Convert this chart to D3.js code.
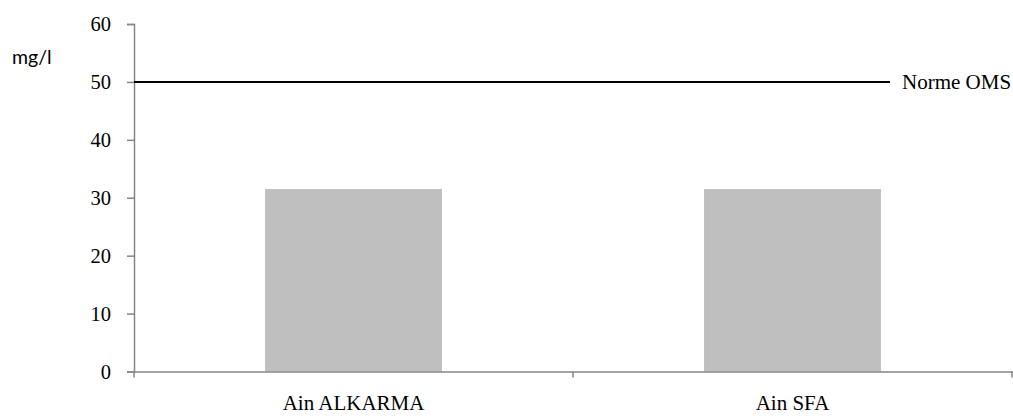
<!DOCTYPE html>
<html><head><meta charset="utf-8">
<script src="https://cdn.jsdelivr.net/npm/d3@7"></script>
<style>
html,body{margin:0;padding:0;background:#fff;}
svg{display:block;}
</style></head>
<body>
<svg id="chart" width="1013" height="416"></svg>
<script>
const categories = ["Ain ALKARMA", "Ain SFA"];
const values = [31.5, 31.5];
const normeValue = 50;
const normeLabel = "Norme OMS";
const yTicks = [0, 10, 20, 30, 40, 50, 60];
const yUnit = "mg/l";

const svg = d3.select("#chart");
const mLeft = 134, mRight = 1012, mTop = 24, mBottom = 371.5;
const serif = "'Liberation Serif','Times New Roman',serif";

const y = d3.scaleLinear().domain([0, 60]).range([mBottom, mTop]);
const x = d3.scaleBand().domain(categories).range([mLeft, mRight]).padding(0);
const barRatio = 0.403;

// bars
svg.append("g").selectAll("rect").data(values).join("rect")
  .attr("x", (d, i) => x(categories[i]) + x.bandwidth() * (1 - barRatio) / 2)
  .attr("width", x.bandwidth() * barRatio)
  .attr("y", d => y(d))
  .attr("height", d => y(0) - y(d))
  .attr("fill", "#bfbfbf");

// y axis
const yAxis = svg.append("g").attr("transform", `translate(${mLeft},0)`)
  .call(d3.axisLeft(y).tickValues(yTicks).tickSize(7).tickPadding(16).tickFormat(d3.format("d")));
yAxis.select(".domain").attr("stroke", "#868686").attr("stroke-width", 1.5);
yAxis.selectAll(".tick line").attr("stroke", "#868686").attr("stroke-width", 1.5);
yAxis.selectAll(".tick text").attr("fill", "#000").style("font-family", serif).style("font-size", "20.5px");

// x axis
const xAxis = svg.append("g").attr("transform", `translate(0,${mBottom})`)
  .call(d3.axisBottom(x).tickSize(0).tickPadding(24).tickSizeOuter(0));
xAxis.select(".domain").attr("stroke", "#868686").attr("stroke-width", 1.5);
xAxis.selectAll(".tick text").attr("fill", "#000").style("font-family", serif).style("font-size", "21px");
// category separator ticks
const seps = categories.map(c => x(c)).concat([x(categories[categories.length - 1]) + x.bandwidth()]);
xAxis.selectAll(".sep").data(seps).join("line").attr("class", "sep")
  .attr("x1", d => d).attr("x2", d => d).attr("y1", 0).attr("y2", 6)
  .attr("stroke", "#868686").attr("stroke-width", 1.5);

// norme line
svg.append("line")
  .attr("x1", mLeft).attr("x2", 890)
  .attr("y1", y(normeValue)).attr("y2", y(normeValue))
  .attr("stroke", "#000").attr("stroke-width", 2);
svg.append("text")
  .attr("x", 902).attr("y", y(normeValue))
  .attr("dy", "0.35em")
  .style("font-family", serif).style("font-size", "21px")
  .text(normeLabel);

// unit
svg.append("text")
  .attr("x", 12).attr("y", 64)
  .style("font-family", "Lato,'Open Sans',sans-serif").style("font-size", "19.5px")
  .text(yUnit);
</script>
</body></html>
